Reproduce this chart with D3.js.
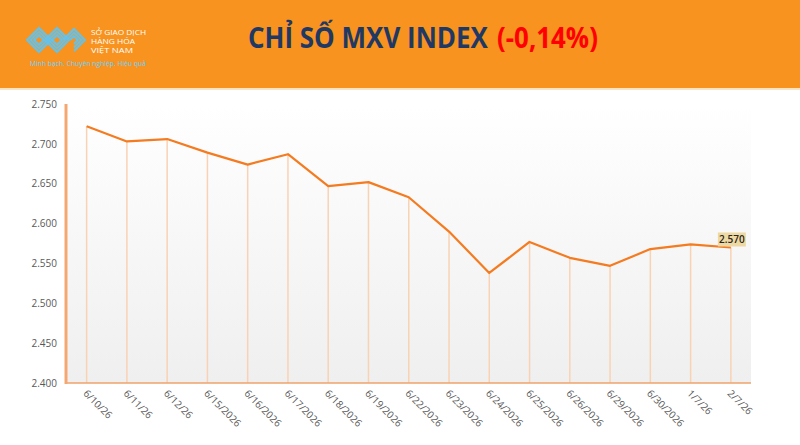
<!DOCTYPE html>
<html><head><meta charset="utf-8">
<script src="https://cdn.jsdelivr.net/npm/d3@7"></script>
<style>
body{margin:0;background:#fff;}
svg{display:block;}
</style></head>
<body>
<script>
const categories = ["6/10/26","6/11/26","6/12/26","6/15/2026","6/16/2026","6/17/2026","6/18/2026","6/19/2026","6/22/2026","6/23/2026","6/24/2026","6/25/2026","6/26/2026","6/29/2026","6/30/2026","1/7/26","2/7/26"];
const values = [2.722,2.703,2.706,2.689,2.674,2.687,2.647,2.652,2.633,2.590,2.538,2.577,2.557,2.547,2.568,2.574,2.570];
const yTicks = [2.400,2.450,2.500,2.550,2.600,2.650,2.700,2.750];
const lastLabel = "2.570";
const titleMain = "CHỈ SỐ MXV INDEX";
const titleChange = "(-0,14%)";

(function(){
const W=800,H=445;
const svg=d3.select("body").append("svg").attr("width",W).attr("height",H);
const defs=svg.append("defs");
const g1=defs.append("linearGradient").attr("id","bg").attr("x1",0).attr("y1",0).attr("x2",0).attr("y2",1);
g1.append("stop").attr("offset","0%").attr("stop-color","#ffffff");
g1.append("stop").attr("offset","100%").attr("stop-color","#efefef");

// header
svg.append("rect").attr("x",0).attr("y",0).attr("width",W).attr("height",88).attr("fill","#F7931E");
svg.append("rect").attr("x",0).attr("y",88).attr("width",W).attr("height",2).attr("fill","#FBE3C4");

// logo
const logo=svg.append("g").attr("fill","none").attr("stroke","#62C3EE").attr("stroke-width",2);
[0,3.6,7.2].forEach(o=>{
  logo.append("path").attr("d",`M${27+o},40 L${39},${28+o} L${51-o},40 L${39},${52-o} Z`);
  logo.append("path").attr("d",`M${45+o},40 L${57},${28+o} L${69-o},40 L${57},${52-o} Z`);
  logo.append("path").attr("d",`M${63+o},40 L${74},${29+o} L${85-o},40 L${74},${51-o}`);
});
const lt=svg.append("g").attr("font-family","'Open Sans',sans-serif").attr("font-size",7.8).attr("fill","#fff");
lt.append("text").attr("x",91).attr("y",35).attr("textLength",55).attr("lengthAdjust","spacingAndGlyphs").text("SỞ GIAO DỊCH");
lt.append("text").attr("x",91).attr("y",44).attr("textLength",44).attr("lengthAdjust","spacingAndGlyphs").text("HÀNG HÓA");
lt.append("text").attr("x",91).attr("y",53).attr("textLength",42).attr("lengthAdjust","spacingAndGlyphs").text("VIỆT NAM");
svg.append("text").attr("x",30).attr("y",66).attr("font-family","'Open Sans',sans-serif").attr("font-size",7.5)
  .attr("textLength",116).attr("lengthAdjust","spacingAndGlyphs").attr("fill","#6FD0F7").text("Minh bạch. Chuyên nghiệp. Hiệu quả");

// title (horizontally condensed via scale)
function title(str, x0, w, color){
  const g=svg.append("g");
  const t=g.append("text").attr("x",0).attr("y",0).attr("font-family","'Open Sans',sans-serif")
    .attr("font-weight","bold").attr("font-size",29).attr("fill",color).text(str);
  const nat=t.node().getComputedTextLength();
  g.attr("transform",`translate(${x0},48) scale(${w/nat},1)`);
}
title(titleMain,248,240,"#1F3864");
title(titleChange,497,101,"#FF0000");

// chart
const pl=66,pr=751,pt=104,pb=383;
const x=d3.scaleBand().domain(categories).range([pl+0.5,pr]);
const y=d3.scaleLinear().domain([2.400,2.750]).range([pb,pt]);

svg.append("rect").attr("x",pl).attr("y",pt).attr("width",pr-pl).attr("height",pb-pt).attr("fill","url(#bg)");

const cx=d=>x(d)+x.bandwidth()/2;
svg.append("g").selectAll("line").data(categories).join("line")
  .attr("x1",d=>cx(d)).attr("x2",d=>cx(d))
  .attr("y1",(d,i)=>y(values[i])).attr("y2",pb)
  .attr("stroke","#F9D2B4").attr("stroke-width",1.5);

const yAxis=svg.append("g").attr("transform",`translate(${pl},0)`)
  .call(d3.axisLeft(y).tickValues(yTicks).tickFormat(d3.format(".3f")).tickSize(0).tickPadding(9));
yAxis.select(".domain").remove();
yAxis.selectAll("text").attr("font-family","'Open Sans',sans-serif").attr("font-size",10).attr("fill","#595959");

svg.append("line").attr("x1",pl).attr("x2",pr).attr("y1",pb).attr("y2",pb).attr("stroke","#F0A36A").attr("stroke-width",1.5);
svg.append("line").attr("x1",pl).attr("x2",pl).attr("y1",pt).attr("y2",pb+1).attr("stroke","#F5A772").attr("stroke-width",3);

const xAxis=svg.append("g").attr("transform",`translate(0,${pb})`)
  .call(d3.axisBottom(x).tickSize(0).tickPadding(0));
xAxis.select(".domain").remove();
xAxis.selectAll("text").attr("font-family","'Open Sans',sans-serif").attr("font-size",10).attr("fill","#595959")
  .attr("text-anchor","start").attr("dy",0).attr("transform","translate(-4,11) rotate(45)");

const line=d3.line().x((d,i)=>cx(categories[i])).y(d=>y(d));
svg.append("path").datum(values).attr("d",line).attr("fill","none").attr("stroke","#F47B20").attr("stroke-width",2.2).attr("stroke-linejoin","round");

// last label
const lx=cx(categories[categories.length-1]), ly=y(values[values.length-1]);
svg.append("rect").attr("x",lx-13).attr("y",ly-15).attr("width",28).attr("height",14).attr("fill","#EFD9A2");
svg.append("text").attr("x",lx+1).attr("y",ly-4.5).attr("text-anchor","middle").attr("font-family","'Open Sans',sans-serif").attr("font-size",10).attr("font-weight","600").attr("fill","#262626").text(lastLabel);
})();
</script>
</body></html>
